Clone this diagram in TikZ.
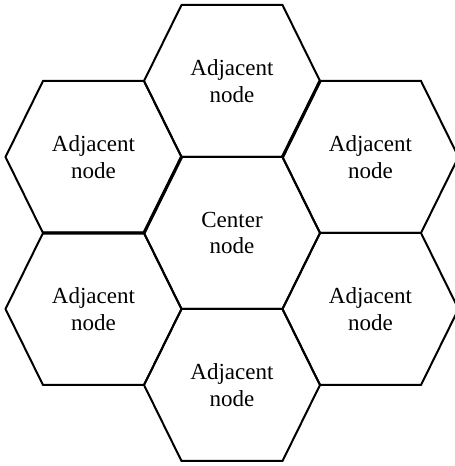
\documentclass[tikz,border=0pt]{standalone}
\usepackage{fontspec}
\setmainfont{Liberation Serif}
\newcommand{\hexcell}[1]{\draw[edge] (#1) ++(-88,0) -- ++(37.5,76) -- ++(101,0) -- ++(37.5,-76) -- ++(-37.5,-76) -- ++(-101,0) -- cycle;}
\begin{document}
\begin{tikzpicture}[x=0.5pt,y=0.5pt]
	\tikzstyle{cell}=[align=center,font=\fontsize{11.5}{13.4}\selectfont,inner sep=0pt]
	\tikzstyle{edge}=[line width=1pt,line join=miter]
	\tikzstyle{heavy}=[line width=1.6pt]
	\useasboundingbox (0,0) rectangle (455,466);
	\node[cell] (c) at (232,233) {Center\\node};
	\node[cell] (t) at (232,385) {Adjacent\\node};
	\node[cell] (b) at (232,81) {Adjacent\\node};
	\node[cell] (lt) at (93.5,309) {Adjacent\\node};
	\node[cell] (lb) at (93.5,157) {Adjacent\\node};
	\node[cell] (rt) at (370.5,309) {Adjacent\\node};
	\node[cell] (rb) at (370.5,157) {Adjacent\\node};
	\foreach \n in {c,t,b,lt,lb,rt,rb} {\hexcell{\n}}
	% shared edges drawn twice
	\draw[heavy] (c) ++(-50.5,76) -- ++(-37.5,-76) -- ++(-101,0);
	\draw[heavy] (t) ++(50.5,-76) -- ++(37.5,76);
\end{tikzpicture}
\end{document}
